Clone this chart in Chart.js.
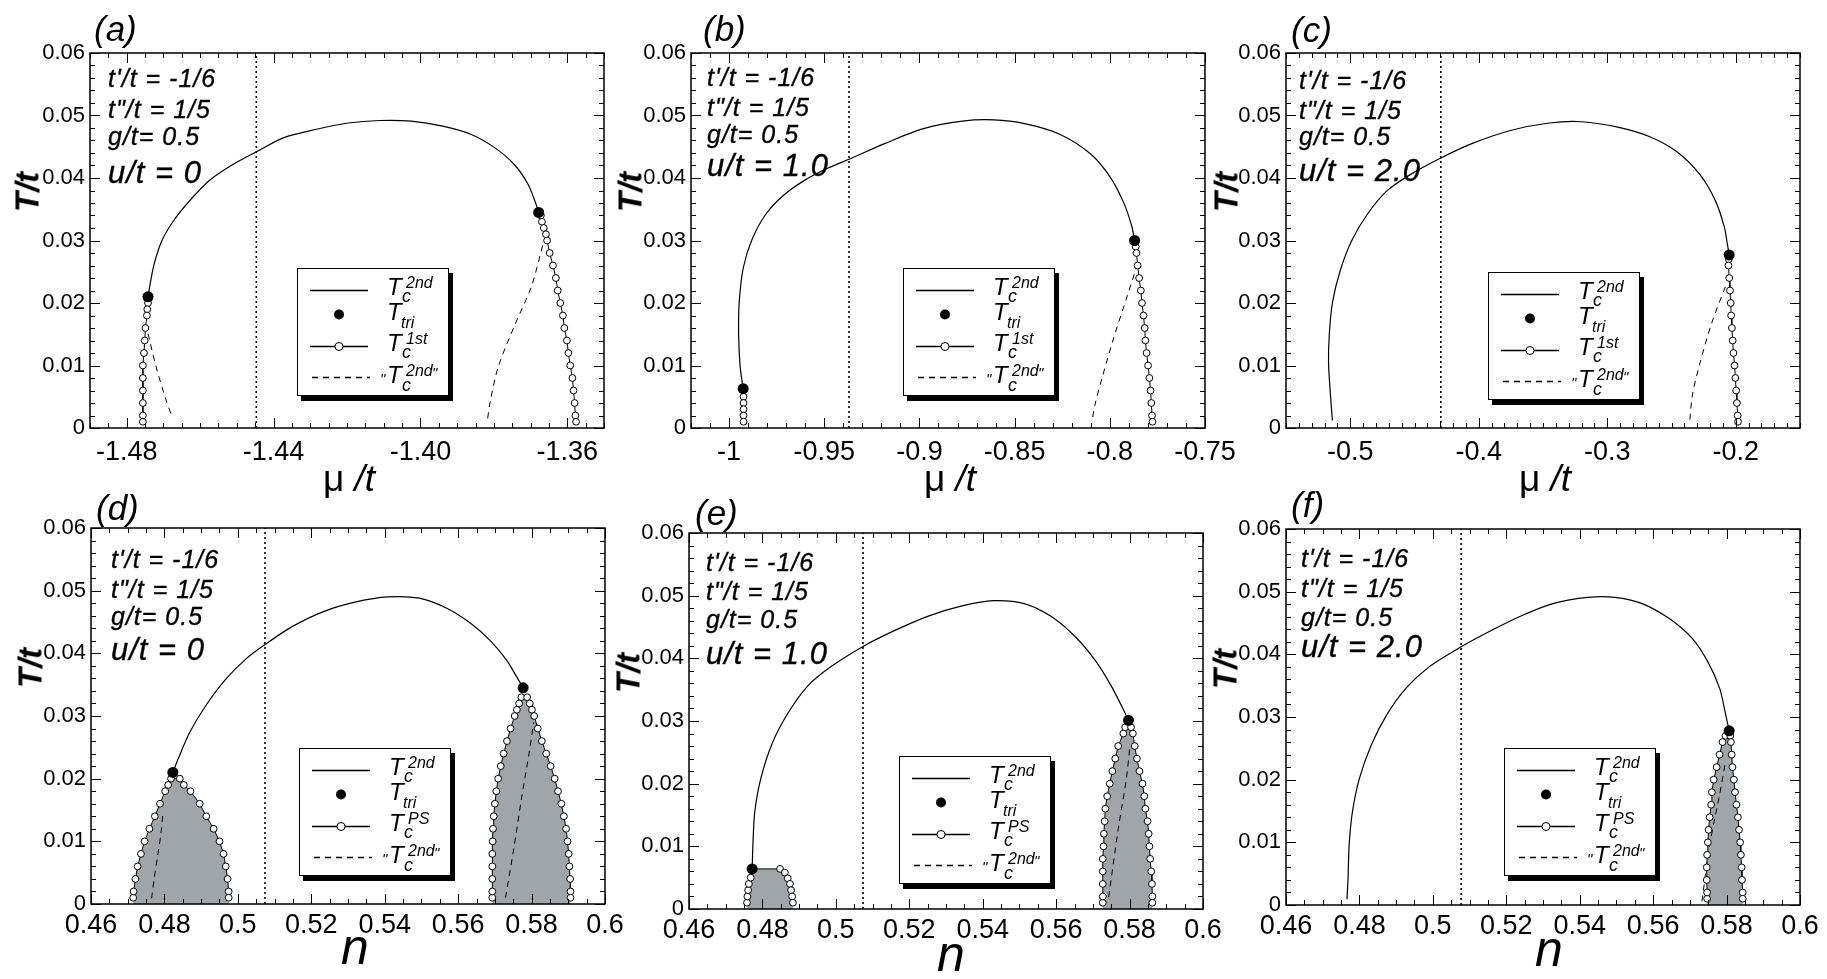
<!DOCTYPE html>
<html>
<head>
<meta charset="utf-8">
<title>Phase diagrams: T/t versus μ/t and n</title>
<script src="https://cdn.jsdelivr.net/npm/chart.js@4.4.1/dist/chart.umd.min.js"></script>
<style>
  html, body { margin: 0; padding: 0; background: #fff; }
  body { position: relative; width: 1827px; height: 979px; overflow: hidden;
         font-family: 'Liberation Sans', Arial, Helvetica, sans-serif; color: #000; }
  canvas { position: absolute; }
  .txt { position: absolute; white-space: nowrap; line-height: 1; }
  .it { font-style: italic; }
  .legend { position: absolute; width: 150px; height: 126px; border: 1.5px solid #000;
            background: #fff; box-shadow: 4px 5px 0 #000; }
  .legend svg { position: absolute; left: 0; top: 0; }
  .legend .txt { font-style: italic; }
</style>
</head>
<body>
<script>
// ---------- tick values and labels ----------
const tTicks = [0, 0.01, 0.02, 0.03, 0.04, 0.05, 0.06];
const tTickLabels = ['0', '0.01', '0.02', '0.03', '0.04', '0.05', '0.06'];
const muATicks = [-1.48, -1.44, -1.40, -1.36];
const muATickLabels = ['-1.48', '-1.44', '-1.40', '-1.36'];
const muBTicks = [-1, -0.95, -0.9, -0.85, -0.8, -0.75];
const muBTickLabels = ['-1', '-0.95', '-0.9', '-0.85', '-0.8', '-0.75'];
const muCTicks = [-0.5, -0.4, -0.3, -0.2];
const muCTickLabels = ['-0.5', '-0.4', '-0.3', '-0.2'];
const nTicks = [0.46, 0.48, 0.5, 0.52, 0.54, 0.56, 0.58, 0.6];
const nTickLabels = ['0.46', '0.48', '0.5', '0.52', '0.54', '0.56', '0.58', '0.6'];

// ---------- (a) u/t = 0, versus mu ----------
const muA2nd = [-1.4742, -1.4736, -1.4725, -1.4704, -1.4672, -1.4628, -1.4575, -1.4510, -1.4447, -1.4370, -1.4283,
                -1.4197, -1.4111, -1.4025, -1.3939, -1.3863, -1.3799, -1.3745, -1.3707, -1.3685, -1.3678];
const tA2nd  = [0.0210, 0.0231, 0.0263, 0.0300, 0.0332, 0.0364, 0.0396, 0.0422, 0.0442, 0.0465, 0.0478,
                0.0488, 0.0492, 0.0491, 0.0483, 0.0470, 0.0449, 0.0422, 0.0390, 0.0358, 0.0345];
const muATri = [-1.4742, -1.3678];
const tATri  = [0.0210, 0.0345];
const muA1stL = [-1.4742, -1.4744, -1.4745, -1.4749, -1.4751, -1.4753, -1.4756, -1.4756, -1.4756, -1.4756, -1.4756, -1.4756];
const tA1stL  = [0.020, 0.019, 0.018, 0.016, 0.014, 0.012, 0.010, 0.008, 0.006, 0.004, 0.002, 0.001];
const muA1stR = [-1.3672, -1.3669, -1.3664, -1.3658, -1.3655, -1.3648, -1.3639, -1.3631, -1.3626, -1.3619,
                 -1.3612, -1.3608, -1.3601, -1.3597, -1.3592, -1.3586, -1.3583, -1.3580, -1.3578, -1.3576];
const tA1stR  = [0.034, 0.033, 0.032, 0.031, 0.030, 0.028, 0.026, 0.024, 0.022, 0.020,
                 0.018, 0.016, 0.014, 0.012, 0.010, 0.008, 0.006, 0.004, 0.002, 0.001];
const muADashL = [-1.4742, -1.4720, -1.4693, -1.4675];
const tADashL  = [0.0151, 0.0098, 0.0045, 0.0016];
const muADashR = [-1.3667, -1.3698, -1.3745, -1.3788, -1.3809, -1.3818];
const tADashR  = [0.0292, 0.0226, 0.0162, 0.0098, 0.0045, 0.0011];
const muAVH = -1.4447;

// ---------- (b) u/t = 1.0, versus mu ----------
const muB2nd = [-0.9926, -0.9942, -0.9950, -0.9946, -0.9924, -0.9879, -0.9807, -0.9715, -0.9600, -0.9480, -0.9370,
                -0.9183, -0.8979, -0.8774, -0.8611, -0.8447, -0.8263, -0.8099, -0.7997, -0.7925, -0.7884, -0.7870];
const tB2nd  = [0.0063, 0.0099, 0.0152, 0.0205, 0.0258, 0.0302, 0.0342, 0.0372, 0.0397, 0.0416, 0.0430,
                0.0455, 0.0479, 0.0491, 0.0493, 0.0487, 0.0470, 0.0438, 0.0401, 0.0359, 0.0322, 0.0300];
const muBTri = [-0.9926, -0.7870];
const tBTri  = [0.0063, 0.0300];
const muB1stL = [-0.9924, -0.9924, -0.9924, -0.9924, -0.9924];
const tB1stL  = [0.005, 0.004, 0.003, 0.002, 0.001];
const muB1stR = [-0.7864, -0.7860, -0.7854, -0.7846, -0.7837, -0.7831, -0.7823, -0.7817,
                 -0.7813, -0.7807, -0.7799, -0.7792, -0.7786, -0.7782, -0.7778, -0.7776];
const tB1stR  = [0.029, 0.028, 0.026, 0.024, 0.022, 0.020, 0.018, 0.016,
                 0.014, 0.012, 0.010, 0.008, 0.006, 0.004, 0.002, 0.001];
const muBDash = [-0.7854, -0.7915, -0.7977, -0.8038, -0.8079, -0.8093];
const tBDash  = [0.0263, 0.0205, 0.0147, 0.0083, 0.0036, 0.0012];
const muBVH = -0.937;

// ---------- (c) u/t = 2.0, versus mu ----------
const muC2nd = [-0.5139, -0.5154, -0.5169, -0.5163, -0.5139, -0.5078, -0.4988, -0.4867, -0.4717, -0.4536, -0.4295, -0.4054,
                -0.3753, -0.3452, -0.3200, -0.2910, -0.2669, -0.2458, -0.2277, -0.2157, -0.2088, -0.2066, -0.2051];
const tC2nd  = [0.0012, 0.0053, 0.0105, 0.0150, 0.0200, 0.0252, 0.0300, 0.0342, 0.0379, 0.0405, 0.0432, 0.0455,
                0.0476, 0.0488, 0.0490, 0.0481, 0.0466, 0.0442, 0.0405, 0.0363, 0.0321, 0.0295, 0.0277];
const muCTri = [-0.2051];
const tCTri  = [0.0277];
const muC1st = [-0.2054, -0.2057, -0.2051, -0.2045, -0.2039, -0.2036, -0.2030, -0.2024,
                -0.2018, -0.2009, -0.2003, -0.1997, -0.1991, -0.1985, -0.1982];
const tC1st  = [0.027, 0.026, 0.024, 0.022, 0.020, 0.018, 0.016, 0.014,
                0.012, 0.010, 0.008, 0.006, 0.004, 0.002, 0.001];
const muCDash = [-0.2081, -0.2187, -0.2277, -0.2337, -0.2358];
const tCDash  = [0.0226, 0.0168, 0.0105, 0.0053, 0.0011];
const muCVH = -0.4295;

// ---------- (d) u/t = 0, versus n ----------
const nD2nd = [0.4823, 0.4837, 0.4869, 0.4912, 0.4966, 0.5020, 0.5074, 0.5149, 0.5235, 0.5322,
               0.5408, 0.5494, 0.5569, 0.5634, 0.5688, 0.5731, 0.5760, 0.5777];
const tD2nd = [0.0210, 0.0231, 0.0274, 0.0316, 0.0358, 0.0390, 0.0414, 0.0443, 0.0467, 0.0482,
               0.0490, 0.0488, 0.0472, 0.0448, 0.0420, 0.0390, 0.0362, 0.0345];
const nDTri = [0.4823, 0.5777];
const tDTri = [0.0210, 0.0345];
const nDPS1 = [0.4715, 0.4716, 0.4721, 0.4727, 0.4736, 0.4746, 0.4759, 0.4774, 0.4788, 0.4802, 0.4810, 0.4818,
               0.4842, 0.4853, 0.4871, 0.4896, 0.4914, 0.4934, 0.4950, 0.4961, 0.4967, 0.4972, 0.4975, 0.4975];
const tDPS1 = [0.001, 0.002, 0.004, 0.006, 0.008, 0.010, 0.012, 0.014, 0.016, 0.018, 0.019, 0.020,
               0.020, 0.019, 0.018, 0.016, 0.014, 0.012, 0.010, 0.008, 0.006, 0.004, 0.002, 0.001];
const nDPS2 = [0.5693, 0.5693, 0.5693, 0.5693, 0.5693, 0.5694, 0.5695, 0.5697, 0.5700, 0.5704, 0.5709, 0.5716,
               0.5724, 0.5733, 0.5743, 0.5754, 0.5760, 0.5766, 0.5772,
               0.5788, 0.5795, 0.5801, 0.5807, 0.5817, 0.5828, 0.5840, 0.5852, 0.5863, 0.5872, 0.5881,
               0.5888, 0.5894, 0.5898, 0.5901, 0.5903, 0.5905, 0.5906, 0.5906];
const tDPS2 = [0.001, 0.002, 0.004, 0.006, 0.008, 0.010, 0.012, 0.014, 0.016, 0.018, 0.020, 0.022,
               0.024, 0.026, 0.028, 0.030, 0.031, 0.032, 0.033,
               0.033, 0.032, 0.031, 0.030, 0.028, 0.026, 0.024, 0.022, 0.020, 0.018, 0.016,
               0.014, 0.012, 0.010, 0.008, 0.006, 0.004, 0.002, 0.001];
const nDDash1 = [0.4765, 0.4772, 0.4781, 0.4790, 0.4796];
const tDDash1 = [0.0009, 0.0040, 0.0075, 0.0110, 0.0145];
const nDDash2 = [0.5729, 0.5752, 0.5773, 0.5793, 0.5806];
const tDDash2 = [0.0010, 0.0090, 0.0170, 0.0240, 0.0290];
const nDVH = 0.5074;

// ---------- (e) u/t = 1.0, versus n ----------
const nE2nd = [0.4772, 0.4774, 0.4779, 0.4795, 0.4827, 0.4869, 0.4922, 0.4985, 0.5074, 0.5155,
               0.5250, 0.5346, 0.5430, 0.5515, 0.5589, 0.5653, 0.5706, 0.5748, 0.5780, 0.5797];
const tE2nd = [0.0064, 0.0101, 0.0154, 0.0207, 0.0265, 0.0312, 0.0355, 0.0386, 0.0419, 0.0443,
               0.0467, 0.0484, 0.0492, 0.0487, 0.0466, 0.0434, 0.0397, 0.0358, 0.0322, 0.0301];
const nETri = [0.4772, 0.5797];
const tETri = [0.0064, 0.0301];
const nEPS1 = [0.4758, 0.4759, 0.4761, 0.4763, 0.4768, 0.4772, 0.4848, 0.4861, 0.4869, 0.4875, 0.4878, 0.4881, 0.4883];
const tEPS1 = [0.001, 0.002, 0.003, 0.004, 0.005, 0.0064, 0.0064, 0.0058, 0.0049, 0.004, 0.003, 0.002, 0.001];
const nEPS2 = [0.5727, 0.5727, 0.5727, 0.5727, 0.5727, 0.5729, 0.5730, 0.5732, 0.5734, 0.5739, 0.5746, 0.5753,
               0.5761, 0.5769, 0.5783, 0.5788,
               0.5804, 0.5809, 0.5814, 0.5820, 0.5827, 0.5835, 0.5840, 0.5843, 0.5849, 0.5852, 0.5854, 0.5856,
               0.5859, 0.5861, 0.5862, 0.5862];
const tEPS2 = [0.001, 0.002, 0.004, 0.006, 0.008, 0.010, 0.012, 0.014, 0.016, 0.018, 0.020, 0.022,
               0.024, 0.026, 0.028, 0.029,
               0.029, 0.028, 0.026, 0.024, 0.022, 0.020, 0.018, 0.016, 0.014, 0.012, 0.010, 0.008,
               0.006, 0.004, 0.002, 0.001];
const nEDash = [0.5743, 0.5769, 0.5791, 0.5801];
const tEDash = [0.0019, 0.0127, 0.0207, 0.0260];
const nEVH = 0.5074;

// ---------- (f) u/t = 2.0, versus n ----------
const nF2nd = [0.4766, 0.4769, 0.4772, 0.4781, 0.4800, 0.4832, 0.4874, 0.4927, 0.4990, 0.5077, 0.5159,
               0.5243, 0.5327, 0.5422, 0.5496, 0.5570, 0.5644, 0.5707, 0.5749, 0.5781, 0.5796, 0.5807];
const tF2nd = [0.0009, 0.0043, 0.0096, 0.0149, 0.0202, 0.0255, 0.0303, 0.0346, 0.0380, 0.0412, 0.0438,
               0.0462, 0.0481, 0.0491, 0.0491, 0.0481, 0.0457, 0.0425, 0.0388, 0.0346, 0.0308, 0.0278];
const nFTri = [0.5807];
const tFTri = [0.0278];
const nFPS = [0.5747, 0.5747, 0.5746, 0.5746, 0.5747, 0.5749, 0.5751, 0.5754, 0.5758, 0.5760, 0.5765, 0.5773,
              0.5781, 0.5789, 0.5797,
              0.5810, 0.5812, 0.5814, 0.5816, 0.5820, 0.5823, 0.5827, 0.5831, 0.5834, 0.5837, 0.5839,
              0.5841, 0.5842, 0.5844, 0.5844];
const tFPS = [0.001, 0.002, 0.004, 0.006, 0.008, 0.010, 0.012, 0.014, 0.016, 0.018, 0.020, 0.022,
              0.024, 0.026, 0.027,
              0.027, 0.026, 0.024, 0.022, 0.020, 0.018, 0.016, 0.014, 0.012, 0.010, 0.008,
              0.006, 0.004, 0.002, 0.001];
const nFDash = [0.5733, 0.5754, 0.5781, 0.5797];
const tFDash = [0.0006, 0.0096, 0.0176, 0.0229];
const nFVH = 0.5077;

// ---------- dataset helpers ----------
const pts = (xs, ys) => xs.map((x, i) => ({ x, y: ys[i] }));
const curve = (xs, ys) => ({ type: 'line', data: pts(xs, ys), borderColor: '#000', borderWidth: 1.2,
  pointRadius: 0, tension: 0.3, fill: false, order: 2 });
const circles = (xs, ys) => ({ type: 'line', data: pts(xs, ys), borderColor: '#000', borderWidth: 1,
  pointRadius: 3.4, pointBackgroundColor: '#fff', pointBorderColor: '#000', pointBorderWidth: 1,
  tension: 0, fill: false, order: 1 });
const dashed = (xs, ys) => ({ type: 'line', data: pts(xs, ys), borderColor: '#000', borderWidth: 1,
  borderDash: [6, 5], pointRadius: 0, tension: 0.3, fill: false, order: 3 });
const dotted = (x) => ({ type: 'line', data: [{ x, y: tTicks[0] }, { x, y: tTicks[tTicks.length - 1] }],
  borderColor: '#000', borderWidth: 1.6, borderDash: [2, 3], pointRadius: 0, fill: false, order: 4 });
const tri = (xs, ys) => ({ type: 'line', data: pts(xs, ys), showLine: false, pointRadius: 5.5,
  pointBackgroundColor: '#000', pointBorderColor: '#000', pointBorderWidth: 0, order: 0 });
// grey phase-separated region: boundary closed down to T = 0
const shade = (xs, ys) => ({ type: 'line',
  data: [{ x: xs[0], y: 0 }, ...pts(xs, ys), { x: xs[xs.length - 1], y: 0 }],
  borderWidth: 0, borderColor: 'rgba(0,0,0,0)', backgroundColor: '#a0a5aa', pointRadius: 0,
  fill: 'shape', tension: 0, order: 5 });

// frame with inward major/minor ticks on all four sides
const frameTicks = {
  id: 'frameTicks',
  afterDatasetsDraw(chart, args, opts) {
    const { ctx, chartArea: a } = chart;
    const xs = chart.scales.x, ys = chart.scales.y;
    ctx.save();
    ctx.strokeStyle = '#000';
    ctx.lineWidth = 1;
    ctx.beginPath();
    const mark = (scale, values, len, horiz) => {
      for (const v of values) {
        const p = Math.round(scale.getPixelForValue(v)) + 0.5;
        if (horiz) {
          ctx.moveTo(p, a.bottom); ctx.lineTo(p, a.bottom - len);
          ctx.moveTo(p, a.top); ctx.lineTo(p, a.top + len);
        } else {
          ctx.moveTo(a.left, p); ctx.lineTo(a.left + len, p);
          ctx.moveTo(a.right, p); ctx.lineTo(a.right - len, p);
        }
      }
    };
    const minorValues = (scale, step) => {
      const out = [];
      const k0 = Math.ceil(scale.min / step - 1e-6), k1 = Math.floor(scale.max / step + 1e-6);
      for (let k = k0; k <= k1; k++) out.push(k * step);
      return out;
    };
    mark(xs, minorValues(xs, opts.xMinor), 5, true);
    mark(ys, minorValues(ys, opts.yMinor), 5, false);
    mark(xs, xs.ticks.map(t => t.value), 10, true);
    mark(ys, ys.ticks.map(t => t.value), 10, false);
    ctx.stroke();
    ctx.lineWidth = 1.5;
    ctx.strokeRect(a.left, a.top, a.right - a.left, a.bottom - a.top);
    ctx.restore();
  }
};

const PAD_L = 90, PAD_T = 20, PAD_R = 40, PAD_B = 60;

function buildPanel(p) {
  const [L, T, R, B] = p.frame;
  const w = R - L + PAD_L + PAD_R, h = B - T + PAD_T + PAD_B;
  const cv = document.createElement('canvas');
  cv.width = w; cv.height = h;
  cv.style.left = (L - PAD_L) + 'px'; cv.style.top = (T - PAD_T) + 'px';
  cv.style.width = w + 'px'; cv.style.height = h + 'px';
  document.body.appendChild(cv);
  new Chart(cv, {
    type: 'line',
    data: { datasets: p.sets },
    options: {
      responsive: false, animation: false, devicePixelRatio: 1, events: [],
      layout: { padding: { left: 0, top: PAD_T, right: PAD_R, bottom: 0 } },
      plugins: { legend: { display: false }, tooltip: { enabled: false },
                 frameTicks: { xMinor: p.x.minor, yMinor: 0.002 } },
      scales: {
        x: {
          type: 'linear', min: p.x.min, max: p.x.max,
          grid: { display: false, drawTicks: false }, border: { display: false },
          ticks: { color: '#000', font: { family: "'Liberation Sans', Arial, sans-serif", size: 27 },
                   padding: p.x.pad, maxRotation: 0, autoSkip: false,
                   callback: (v, i) => p.x.labels[i] },
          afterBuildTicks: s => { s.ticks = p.x.ticks.map(v => ({ value: v })); },
          afterFit: s => { s.height = PAD_B; }
        },
        y: {
          type: 'linear', min: 0, max: 0.06,
          grid: { display: false, drawTicks: false }, border: { display: false },
          ticks: { color: '#000', font: { family: "'Liberation Sans', Arial, sans-serif", size: 22 },
                   padding: 5, autoSkip: false, callback: (v, i) => tTickLabels[i] },
          afterBuildTicks: s => { s.ticks = tTicks.map(v => ({ value: v })); },
          afterFit: s => { s.width = PAD_L; }
        }
      }
    },
    plugins: [frameTicks]
  });
}

// ---------- HTML text helpers ----------
function text(html, x, baseline, size, extra, parent) {
  const d = document.createElement('div');
  d.className = 'txt';
  d.innerHTML = html;
  d.style.left = x + 'px';
  d.style.top = (baseline - 0.8465 * size) + 'px';
  d.style.fontSize = size + 'px';
  if (extra) Object.assign(d.style, extra);
  (parent || document.body).appendChild(d);
  return d;
}
function rotated(html, cx, cy, size) {
  const d = document.createElement('div');
  d.className = 'txt';
  d.innerHTML = html;
  Object.assign(d.style, { left: cx + 'px', top: cy + 'px', fontSize: size + 'px', fontStyle: 'italic',
    fontWeight: 'bold', transform: 'translate(-50%, -50%) rotate(-90deg)' });
  document.body.appendChild(d);
}
function centered(html, cx, baseline, size) {
  const d = text(html, cx, baseline, size);
  d.style.transform = 'translateX(-50%)';
}

function legend(x, y, third) {
  const box = document.createElement('div');
  box.className = 'legend';
  box.style.left = x + 'px'; box.style.top = y + 'px';
  const r = [21.5, 45.5, 77.5, 108.5];
  box.innerHTML =
    '<svg width="150" height="126">' +
    `<line x1="12" y1="${r[0]}" x2="70" y2="${r[0]}" stroke="#000" stroke-width="1.3"/>` +
    `<circle cx="41" cy="${r[1]}" r="5" fill="#000"/>` +
    `<line x1="12" y1="${r[2]}" x2="70" y2="${r[2]}" stroke="#000" stroke-width="1.3"/>` +
    `<circle cx="41" cy="${r[2]}" r="4" fill="#fff" stroke="#000" stroke-width="1"/>` +
    `<line x1="14" y1="${r[3]}" x2="72" y2="${r[3]}" stroke="#000" stroke-width="1.3" stroke-dasharray="6 5"/>` +
    '</svg>';
  document.body.appendChild(box);
  // row 1: T_c^2nd
  text('T', 89, r[0] + 5, 24, null, box);
  text('2nd', 108, r[0] - 2, 16, null, box);
  text('c', 104, r[0] + 12, 18, null, box);
  // row 2: T_tri
  text('T', 89, r[1] + 6, 24, null, box);
  text('tri', 103, r[1] + 14, 16, null, box);
  // row 3: T_c^1st or T_c^PS
  text('T', 89, r[2] + 5, 24, null, box);
  text(third, 108, r[2] - 2, 16, null, box);
  text('c', 104, r[2] + 12, 18, null, box);
  // row 4: "T_c^2nd"
  text('"', 82, r[3] + 6, 15, null, box);
  text('T', 89, r[3] + 6, 24, null, box);
  text('2nd', 108, r[3] - 1, 16, null, box);
  text('c', 104, r[3] + 14, 18, null, box);
  text('"', 134, r[3], 15, null, box);
}

function params(x, bl, uText) {
  const st = { fontStyle: 'italic', letterSpacing: '1px', webkitTextStroke: '0.35px #000' };
  text("t'/t = -1/6", x, bl[0], 25, st);
  text('t"/t = 1/5', x, bl[1], 25, st);
  text('g/t= 0.5', x, bl[2], 25, st);
  text(uText, x, bl[3], 31, st);
}

// ---------- panels ----------
const panels = [
  { frame: [90, 53, 604, 428],
    x: { min: -1.49, max: -1.35, ticks: muATicks, labels: muATickLabels, minor: 0.005, pad: 8 },
    sets: [tri(muATri, tATri), circles(muA1stL, tA1stL), circles(muA1stR, tA1stR), curve(muA2nd, tA2nd),
           dashed(muADashL, tADashL), dashed(muADashR, tADashR), dotted(muAVH)],
    tag: '(a)', tagPos: [94, 41], par: [108, [87, 118, 145, 183]], u: 'u/t = 0',
    leg: [297, 268, '1st'], yT: [27, 192], xT: 'mu', xTPos: [349, 491] },
  { frame: [691, 53, 1205, 428],
    x: { min: -1.02, max: -0.75, ticks: muBTicks, labels: muBTickLabels, minor: 0.01, pad: 8 },
    sets: [tri(muBTri, tBTri), circles(muB1stL, tB1stL), circles(muB1stR, tB1stR), curve(muB2nd, tB2nd),
           dashed(muBDash, tBDash), dotted(muBVH)],
    tag: '(b)', tagPos: [703, 41], par: [707, [86, 116, 143, 176]], u: 'u/t = 1.0',
    leg: [903, 268, '1st'], yT: [630, 192], xT: 'mu', xTPos: [950, 491] },
  { frame: [1286, 53, 1800, 428],
    x: { min: -0.55, max: -0.15, ticks: muCTicks, labels: muCTickLabels, minor: 0.01, pad: 8 },
    sets: [tri(muCTri, tCTri), circles(muC1st, tC1st), curve(muC2nd, tC2nd), dashed(muCDash, tCDash), dotted(muCVH)],
    tag: '(c)', tagPos: [1291, 42], par: [1299, [89, 119, 145, 181]], u: 'u/t = 2.0',
    leg: [1488, 272, '1st'], yT: [1226, 192], xT: 'mu', xTPos: [1545, 491] },
  { frame: [91, 528, 605, 904],
    x: { min: 0.46, max: 0.6, ticks: nTicks, labels: nTickLabels, minor: 0.005, pad: 5 },
    sets: [tri(nDTri, tDTri), circles(nDPS1, tDPS1), circles(nDPS2, tDPS2), curve(nD2nd, tD2nd),
           dashed(nDDash1, tDDash1), dashed(nDDash2, tDDash2), dotted(nDVH), shade(nDPS1, tDPS1), shade(nDPS2, tDPS2)],
    tag: '(d)', tagPos: [96, 520], par: [111, [568, 598, 625, 660]], u: 'u/t = 0',
    leg: [299, 748, 'PS'], yT: [30, 668], xT: 'n', xTPos: [355, 964] },
  { frame: [689, 533, 1203, 909],
    x: { min: 0.46, max: 0.6, ticks: nTicks, labels: nTickLabels, minor: 0.005, pad: 5 },
    sets: [tri(nETri, tETri), circles(nEPS1, tEPS1), circles(nEPS2, tEPS2), curve(nE2nd, tE2nd),
           dashed(nEDash, tEDash), dotted(nEVH), shade(nEPS1, tEPS1), shade(nEPS2, tEPS2)],
    tag: '(e)', tagPos: [695, 525], par: [706, [571, 600, 628, 664]], u: 'u/t = 1.0',
    leg: [899, 756, 'PS'], yT: [628, 673], xT: 'n', xTPos: [951, 971] },
  { frame: [1286, 529, 1800, 905],
    x: { min: 0.46, max: 0.6, ticks: nTicks, labels: nTickLabels, minor: 0.005, pad: 5 },
    sets: [tri(nFTri, tFTri), circles(nFPS, tFPS), curve(nF2nd, tF2nd), dashed(nFDash, tFDash), dotted(nFVH),
           shade(nFPS, tFPS)],
    tag: '(f)', tagPos: [1291, 517], par: [1301, [567, 597, 626, 657]], u: 'u/t = 2.0',
    leg: [1504, 748, 'PS'], yT: [1225, 669], xT: 'n', xTPos: [1549, 966] }
];

for (const p of panels) {
  buildPanel(p);
  text(p.tag, p.tagPos[0], p.tagPos[1], 35, { fontStyle: 'italic' });
  params(p.par[0], p.par[1], p.u);
  legend(p.leg[0], p.leg[1], p.leg[2]);
  rotated('T/t', p.yT[0], p.yT[1], 33);
  if (p.xT === 'mu') {
    centered('<span style="font-style:normal">μ</span> <span class="it">/t</span>', p.xTPos[0], p.xTPos[1], 37);
  } else {
    centered('<span class="it">n</span>', p.xTPos[0], p.xTPos[1], 50);
  }
}
</script>
</body>
</html>
